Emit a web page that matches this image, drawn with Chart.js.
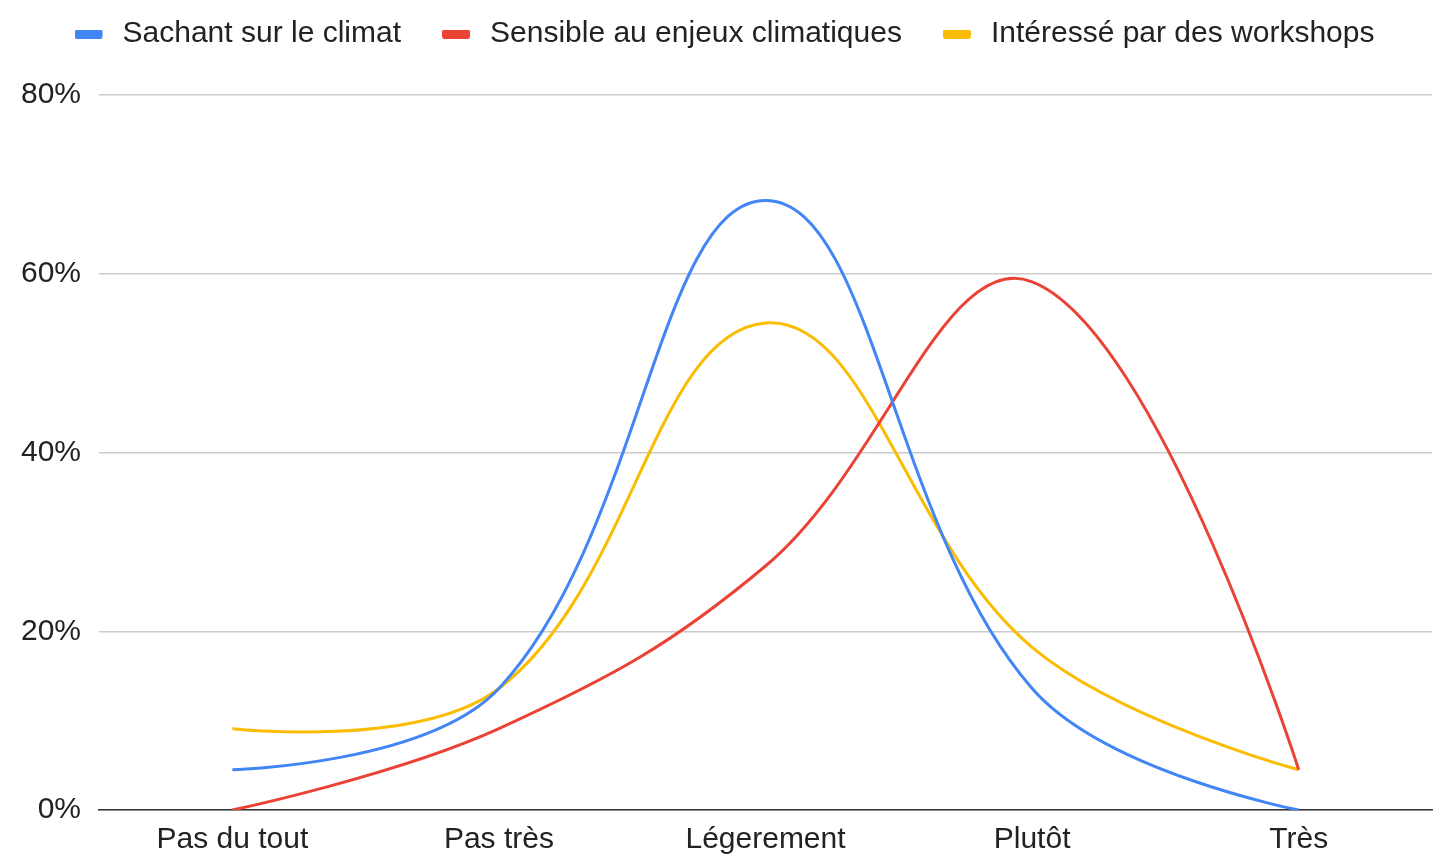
<!DOCTYPE html>
<html>
<head>
<meta charset="utf-8">
<script src="https://cdn.jsdelivr.net/npm/chart.js@4.4.1/dist/chart.umd.min.js"></script>
<style>
  html, body { margin: 0; padding: 0; background: #ffffff; }
  #wrap { width: 1441px; height: 866px; position: relative; }
</style>
</head>
<body>
<div id="wrap"><canvas id="c" width="1441" height="866"></canvas></div>
<script>
const categories = ["Pas du tout", "Pas très", "Légerement", "Plutôt", "Très"];
const seriesNames = ["Sachant sur le climat", "Sensible au enjeux climatiques", "Intéressé par des workshops"];
const sachant = [4.5, 13.6, 68.2, 13.6, 0];
const sensible = [0, 9.1, 27.3, 59.1, 4.5];
const interesse = [9.1, 13.6, 54.5, 18.2, 4.5];
const yTicks = [0, 20, 40, 60, 80];
const colors = ["#4285F4", "#EA4335", "#FBBC04"];

const FONT = "'Liberation Sans', Arial, sans-serif";

// Legend swatch: a small rounded bar with some empty space to its right.
function swatch(color) {
  const c = document.createElement('canvas');
  c.width = 33; c.height = 9;
  const g = c.getContext('2d');
  g.fillStyle = color;
  g.beginPath();
  if (g.roundRect) g.roundRect(0, 0, 28, 9, 2); else g.rect(0, 0, 28, 9);
  g.fill();
  return c;
}

// Shift the legend so it sits where the reference's does.
const legendShift = {
  id: 'legendShift',
  afterLayout(chart) {
    const lg = chart.legend;
    if (lg) { lg.top -= 36; lg.bottom -= 36; lg.left += 7; lg.right += 7; }
  }
};

// Google-style curve ends: the end points' outer control points collapse onto the point.
const curveEnds = {
  id: 'curveEnds',
  beforeDatasetDraw(chart, args) {
    const meta = args.meta;
    const line = meta.dataset;
    if (!line || !line.updateControlPoints) return;
    line.updateControlPoints(chart.chartArea, meta.indexAxis || 'x');
    const pts = meta.data;
    if (pts.length < 2) return;
    const first = pts[0], last = pts[pts.length - 1];
    first.cp2x = first.x; first.cp2y = first.y;
    last.cp1x = last.x; last.cp1y = last.y;
  }
};

function ds(label, data, color) {
  return {
    label, data,
    borderColor: color,
    backgroundColor: color,
    borderWidth: 3,
    pointRadius: 0,
    pointHoverRadius: 0,
    tension: 0.4,
    fill: false
  };
}

new Chart(document.getElementById('c'), {
  type: 'line',
  data: {
    labels: categories,
    datasets: [
      ds(seriesNames[0], sachant, colors[0]),
      ds(seriesNames[1], sensible, colors[1]),
      ds(seriesNames[2], interesse, colors[2])
    ]
  },
  plugins: [legendShift, curveEnds],
  options: {
    responsive: false,
    animation: false,
    devicePixelRatio: 1,
    layout: { padding: { top: 14, left: 3, right: 9, bottom: -4 } },
    plugins: {
      tooltip: { enabled: false },
      legend: {
        position: 'top',
        align: 'center',
        labels: {
          font: { family: FONT, size: 30 },
          color: '#222222',
          usePointStyle: true,
          pointStyleWidth: 33,
          boxHeight: 9,
          padding: 41,
          generateLabels(chart) {
            return Chart.defaults.plugins.legend.labels.generateLabels(chart).map((l, i) =>
              Object.assign(l, { lineWidth: 0, pointStyle: swatch(colors[i]) }));
          }
        }
      }
    },
    scales: {
      x: {
        offset: true,
        grid: { display: false, drawTicks: false },
        border: { display: true, color: '#333333', width: 1.5 },
        ticks: { font: { family: FONT, size: 30 }, color: '#222222', padding: 12, maxRotation: 0, autoSkip: false }
      },
      y: {
        min: 0, max: 80,
        afterBuildTicks(scale) { scale.ticks = yTicks.map(v => ({ value: v })); },
        grid: { color: '#cccccc', lineWidth: 1.5, drawTicks: false },
        border: { display: false },
        ticks: {
          font: { family: FONT, size: 30 }, color: '#222222', padding: 18,
          callback: v => v + '%'
        }
      }
    }
  }
});
</script>
</body>
</html>
